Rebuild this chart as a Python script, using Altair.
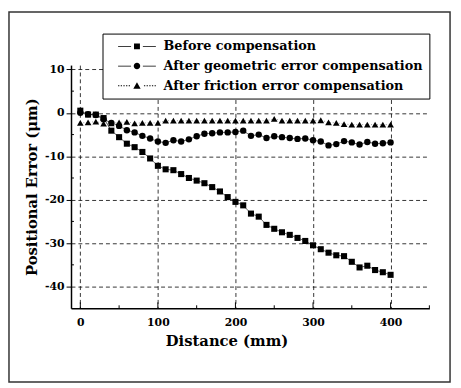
import altair as alt
import pandas as pd

distance = list(range(0, 401, 10))
before = [0.5, -0.4, -0.4, -1.2, -4.1, -5.6, -7.1, -7.9, -9.0, -10.5,
          -12.2, -13.0, -13.2, -14.1, -15.0, -15.6, -16.2, -17.1, -18.1, -19.4,
          -20.5, -21.3, -23.2, -23.9, -25.8, -26.7, -27.5, -28.1, -28.8, -29.5,
          -30.5, -31.4, -32.2, -32.8, -33.0, -34.3, -35.6, -35.2, -36.2, -36.7, -37.3]
geometric = [0.0, -0.3, -0.5, -1.5, -2.3, -3.0, -4.0, -4.5, -5.3, -5.9,
             -6.6, -6.9, -6.3, -6.6, -6.1, -5.4, -4.8, -4.7, -4.5, -4.5,
             -4.4, -4.1, -5.3, -5.0, -5.8, -5.4, -5.6, -5.8, -6.0, -5.9,
             -6.3, -6.6, -7.5, -7.2, -6.5, -6.8, -7.3, -6.7, -7.1, -7.0, -6.8]
friction = [-2.3, -2.2, -2.0, -2.5, -2.4, -2.2, -2.1, -2.4, -2.3, -2.3,
            -2.3, -1.8, -1.8, -1.8, -1.8, -1.8, -1.8, -1.8, -1.8, -1.8,
            -1.8, -1.8, -1.8, -1.8, -1.8, -1.4, -1.8, -1.8, -1.8, -1.8,
            -1.8, -1.7, -2.2, -2.3, -2.6, -2.7, -2.7, -2.7, -2.7, -2.7, -2.7]
series_names = ["Before compensation",
                "After geometric error compensation",
                "After friction error compensation"]
x_major_ticks = [0, 100, 200, 300, 400]
x_minor_ticks = [50, 150, 250, 350, 450]
y_major_ticks = [10, 0, -10, -20, -30, -40]
y_minor_ticks = [5, -5, -15, -25, -35]

rows = []
for name, vals in zip(series_names, [before, geometric, friction]):
    for d, v in zip(distance, vals):
        rows.append({"Distance": d, "Error": v, "Series": name})
df = pd.DataFrame(rows)

W, H = 364, 247
FONT = "DejaVu Serif"

xs = alt.Scale(domain=[-12, 450], nice=False, zero=False)
ys = alt.Scale(domain=[-45, 11], nice=False, zero=False)

base = alt.Chart(df)

lines = base.mark_line(strokeWidth=0.8).encode(
    x=alt.X("Distance:Q", scale=xs,
            axis=alt.Axis(values=x_major_ticks, title="Distance (mm)", tickSize=0,
                          labelPadding=9, titleX=158, titleY=38,
                          titleBaseline="alphabetic", titleFontSize=15)),
    y=alt.Y("Error:Q", scale=ys,
            axis=alt.Axis(values=y_major_ticks, title="Positional Error (\u03bcm)",
                          tickSize=5, labelPadding=2, titlePadding=5,
                          labelExpr="'' + datum.value", titleFontSize=15)),
    detail="Series:N",
    color=alt.Color("Series:N", scale=alt.Scale(domain=series_names,
                    range=["#222222", "#222222", "#888888"]), legend=None),
    strokeDash=alt.StrokeDash("Series:N", scale=alt.Scale(domain=series_names,
                    range=[[1, 0], [1, 0], [1, 2]]), legend=None),
)

points = base.mark_point(filled=True, color="black", opacity=1).encode(
    x=alt.X("Distance:Q", scale=xs),
    y=alt.Y("Error:Q", scale=ys),
    shape=alt.Shape("Series:N", scale=alt.Scale(domain=series_names,
                    range=["square", "circle", "triangle-up"]), legend=None),
    size=alt.Size("Series:N", scale=alt.Scale(domain=series_names,
                  range=[38, 46, 50]), legend=None),
)

def seg(x0, x1, h=0.07):
    return f"M{x0},{-h}H{x1}V{h}H{x0}Z"

solid_line = seg(-3.2, -1.0) + seg(1.0, 3.2)
dotted_line = "".join(seg(a, a + 0.22) for a in [-3.2, -2.75, -2.3, -1.85, -1.4]) + \
              "".join(seg(a, a + 0.22) for a in [1.18, 1.63, 2.08, 2.53, 2.98])
leg_paths = [
    solid_line + "M-0.5,-0.5H0.5V0.5H-0.5Z",
    solid_line + "M0.55,0A0.55,0.55 0 1,1 -0.55,0A0.55,0.55 0 1,1 0.55,0Z",
    dotted_line + "M0,-0.6L0.62,0.5L-0.62,0.5Z",
]

legend_layer = base.transform_filter("false").mark_point(
    filled=True, color="black", opacity=1).encode(
    x=alt.X("Distance:Q", scale=xs),
    y=alt.Y("Error:Q", scale=ys),
    shape=alt.Shape("Series:N", scale=alt.Scale(domain=series_names, range=leg_paths),
                    legend=alt.Legend(orient="none", legendX=32, legendY=-32, title=None,
                                      strokeColor="black", fillColor="white", padding=6,
                                      labelFont=FONT, labelFontWeight="bold",
                                      labelFontSize=13, labelColor="black",
                                      symbolSize=144, symbolOffset=22, labelOffset=20,
                                      symbolFillColor="black", symbolOpacity=1,
                                      rowPadding=6, labelLimit=400)),
)

xmaj = alt.Chart(pd.DataFrame({"t": x_major_ticks})).mark_rule(color="black", strokeWidth=1).encode(
    x=alt.X("t:Q", scale=xs), y=alt.value(H), y2=alt.value(H - 6))
xmin = alt.Chart(pd.DataFrame({"t": x_minor_ticks})).mark_rule(color="black", strokeWidth=1).encode(
    x=alt.X("t:Q", scale=xs), y=alt.value(H), y2=alt.value(H - 3))
ymin = alt.Chart(pd.DataFrame({"t": y_minor_ticks})).mark_rule(color="black", strokeWidth=1).encode(
    y=alt.Y("t:Q", scale=ys), x=alt.value(0), x2=alt.value(3))

frame = alt.Chart(pd.DataFrame({"a": [0]})).mark_rect(
    filled=False, stroke="#333333", strokeWidth=1.5, clip=False).encode(
    x=alt.value(-63), x2=alt.value(385), y=alt.value(-54), y2=alt.value(322))

chart = alt.layer(frame, lines, points, xmaj, xmin, ymin, legend_layer).resolve_scale(
    shape="independent", size="independent"
).properties(
    width=W, height=H,
    autosize=alt.AutoSizeParams(type="none"),
    padding={"left": 64, "top": 55, "right": 24, "bottom": 78},
).configure_view(stroke=None).configure_axis(
    labelFont=FONT, labelFontWeight="bold", labelFontSize=11, labelColor="black",
    titleFont=FONT, titleFontWeight="bold", titleColor="black",
    domainColor="black", domainWidth=1.5, tickColor="black",
    grid=True, gridColor="black", gridDash=[4, 3], gridWidth=0.8, gridOpacity=1,
)

chart.save("out.html", embed_options={"renderer": "svg", "actions": False})
